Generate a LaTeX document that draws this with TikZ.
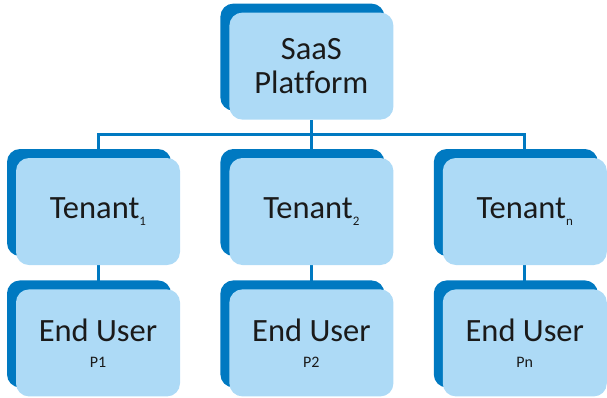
\documentclass[tikz,border=0pt]{standalone}
\usepackage{fontspec}
\setmainfont{Carlito}[Ligatures={NoCommon}]
\usetikzlibrary{positioning,shadows,backgrounds}
\definecolor{saasdark}{RGB}{0,121,193}
\definecolor{saaslight}{RGB}{173,218,246}
\definecolor{saastext}{RGB}{26,26,26}
\newcommand{\tsub}[1]{\raisebox{-0.22em}{\fontsize{13}{13}\selectfont #1}}
\newcommand{\puser}[1]{{\fontsize{16}{16}\selectfont #1}}

\begin{document}
\begin{tikzpicture}[x=1pt, y=-1pt, every node/.style={text=saastext}]
\tikzstyle{tile}=[rectangle, rounded corners=13pt, fill=saaslight, minimum width=164pt, minimum height=107pt, align=center, font=\fontsize{32.5}{34}\selectfont, copy shadow={shadow xshift=-9pt, shadow yshift=9pt, fill=saasdark, draw=none}]
\tikzstyle{link}=[draw=saasdark, line width=3pt]
\useasboundingbox (0,0) rectangle (607,397);

% Tenant row
\node[tile] (t1) at (98,211.5) {Tenant\tsub{1}};
\node[tile, right=49pt of t1] (t2) {Tenant\tsub{2}};
\node[tile, right=49pt of t2] (tn) {Tenant\tsub{n}};

% Platform on top, end users below
\node[tile, above=38pt of t2] (saas) {SaaS\\Platform};
\node[tile, below=24pt of t1] (u1) {End User\\[-8pt]\puser{P1}};
\node[tile, below=24pt of t2] (u2) {End User\\[-8pt]\puser{P2}};
\node[tile, below=24pt of tn] (un) {End User\\[-8pt]\puser{Pn}};

% Connectors behind the tiles
\coordinate (bus) at (311,134.5);
\begin{scope}[on background layer]
\draw[link] (saas) -- (t2);
\draw[link] (t1) |- (bus) -| (tn);
\draw[link] (t1) -- (u1);
\draw[link] (t2) -- (u2);
\draw[link] (tn) -- (un);
\end{scope}
\end{tikzpicture}
\end{document}
